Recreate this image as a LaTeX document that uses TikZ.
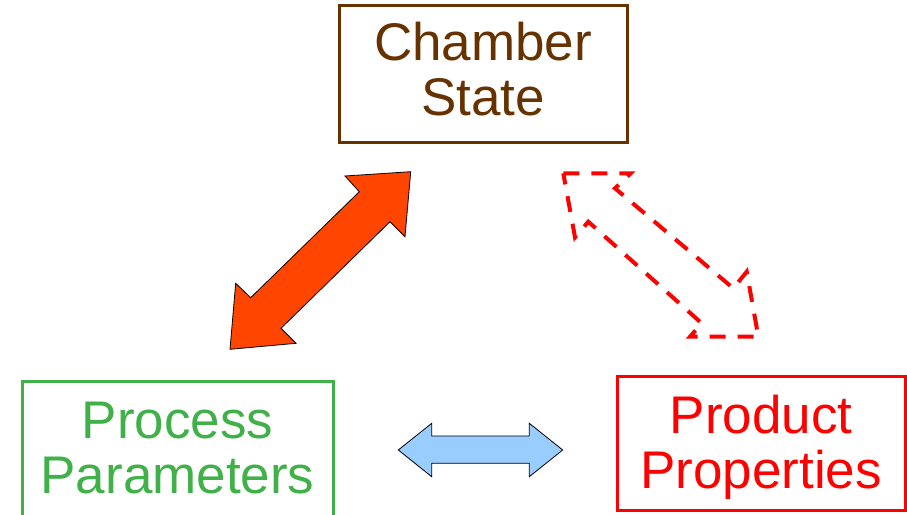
\documentclass[tikz,border=0pt]{standalone}
\usepackage{fontspec}
\setmainfont{Liberation Sans}
\definecolor{chamberbrown}{RGB}{102,51,0}
\definecolor{processgreen}{RGB}{64,176,72}
\definecolor{arroworange}{RGB}{255,69,0}
\definecolor{arrowblue}{RGB}{153,204,255}
\begin{document}
\begin{tikzpicture}
  [x=1pt,y=-1pt,
  every node/.style={inner sep=0pt},
  box/.style={draw=#1,line width=3pt},
  boxtext/.style={text=#1,align=center,font=\fontsize{53}{55}\selectfont},
  solidarrow/.style={fill=#1,draw=black,line width=0.8pt},
  dasharrow/.style={draw=red,line width=4pt,dash pattern=on 16pt off 12pt}]
\useasboundingbox (0,0) rectangle (907,514);
\clip (0,0) rectangle (907,514);
\node[box=chamberbrown,minimum width=288pt,minimum height=137pt] (chamber) at (483,73.5) {};
\node[box=processgreen,minimum width=311pt,minimum height=150pt] (process) at (177.5,456) {};
\node[box=red,minimum width=288pt,minimum height=134pt] (product) at (761,443) {};
\node[boxtext=chamberbrown] (chambertext) at ([yshift=4pt]chamber.center) {Chamber\\State};
\node[boxtext=processgreen] (processtext) at ([yshift=8pt]process.center) {Process\\Parameters};
\node[boxtext=red] (producttext) at ([yshift=-4pt]product.center) {Product\\Properties};
\draw[solidarrow=arroworange] (410.7,171.7) -- (405,236.7) -- (390,221.7) -- (281,328.3)
  -- (296,343.3) -- (230,349.3) -- (235.7,283.3) -- (250.7,297.7) -- (359.3,191.7)
  -- (345,176) -- cycle;
\draw[dasharrow] (563.3,173.3) -- (630.7,173.3) -- (615,188.3) -- (733.3,288.3)
  -- (746.7,271.7) -- (758.3,336.7) -- (690,336.7) -- (701.7,323.3) -- (588.3,221.7)
  -- (575,237.3) -- cycle;
\draw[solidarrow=arrowblue] (398.3,450) -- (431.7,423.3) -- (431.7,436) -- (529.3,436)
  -- (529.3,423.3) -- (562.7,450) -- (529.3,476.7) -- (529.3,463.3) -- (431.7,463.3)
  -- (431.7,476.7) -- cycle;
\end{tikzpicture}
\end{document}
